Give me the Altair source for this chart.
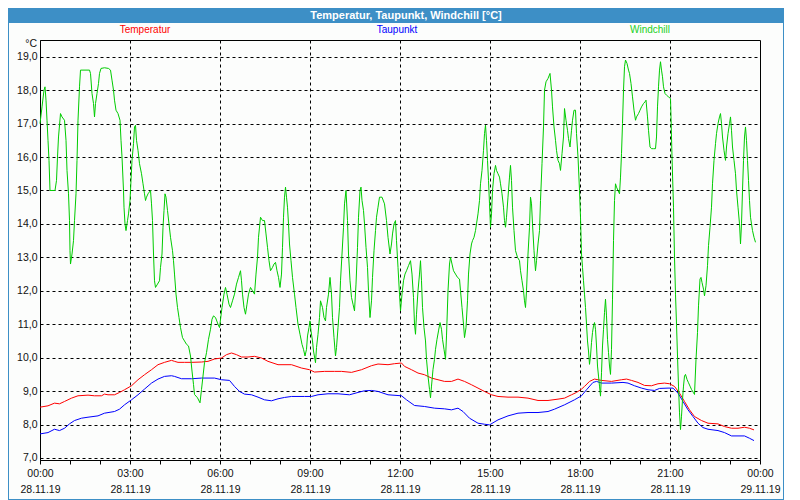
import altair as alt
import pandas as pd

SERIES = ["Temperatur", "Taupunkt", "Windchill"]
LINE_COLORS = ["#ff0000", "#0000ff", "#00cc00"]
LABEL_COLORS = ["#ff0000", "#0000ff", "#22d022"]
TITLE = "Temperatur, Taupunkt, Windchill [°C]"
UNIT = "°C"
X_TICK_HOURS = list(range(0, 25))
Y_TICKS = list(range(7, 20))

# minutes after 28.11.19 00:00 and values in °C
temp_min = [0, 16, 29, 39, 49, 63, 76, 96, 109, 123,
            129, 136, 149, 159, 169, 183, 196, 209, 223, 236,
            249, 263, 269, 276, 289, 303, 323, 336, 349, 363,
            373, 383, 393, 403, 416, 429, 443, 456, 476, 503,
            523, 539, 549, 569, 589, 603, 623, 643, 663, 676,
            696, 709, 723, 729, 743, 756, 769, 783, 796, 809,
            823, 836, 849, 863, 876, 889, 903, 916, 936, 956,
            976, 996, 1016, 1036, 1049, 1063, 1073, 1083, 1089, 1099,
            1109, 1123, 1143, 1163, 1173, 1183, 1196, 1209, 1223, 1236,
            1249, 1259, 1269, 1279, 1289, 1299, 1309, 1323, 1336, 1356,
            1369, 1383, 1396, 1409, 1419, 1428]
temp_val = [8.52, 8.56, 8.64, 8.62, 8.69, 8.79, 8.86, 8.88, 8.86, 8.86,
            8.91, 8.89, 8.89, 8.96, 9.04, 9.16, 9.34, 9.49, 9.64, 9.79,
            9.86, 9.92, 9.89, 9.86, 9.86, 9.86, 9.87, 9.89, 9.96, 9.99,
            10.09, 10.14, 10.09, 10.02, 10.02, 10.04, 9.99, 9.89, 9.79, 9.79,
            9.69, 9.64, 9.57, 9.59, 9.59, 9.59, 9.56, 9.64, 9.76, 9.81,
            9.79, 9.82, 9.84, 9.74, 9.64, 9.54, 9.49, 9.39, 9.34, 9.29,
            9.29, 9.36, 9.29, 9.19, 9.09, 8.99, 8.89, 8.84, 8.82, 8.82,
            8.79, 8.72, 8.72, 8.76, 8.79, 8.89, 8.96, 9.06, 9.14, 9.29,
            9.36, 9.32, 9.29, 9.34, 9.36, 9.32, 9.26, 9.17, 9.16, 9.22,
            9.24, 9.22, 9.14, 8.94, 8.69, 8.44, 8.24, 8.12, 8.04, 8.02,
            7.94, 7.89, 7.89, 7.92, 7.89, 7.84]

dew_min = [0, 16, 29, 39, 49, 59, 69, 83, 96, 116,
           129, 149, 159, 169, 183, 196, 209, 223, 236, 249,
           263, 269, 283, 303, 323, 349, 363, 379, 389, 399,
           409, 423, 436, 449, 463, 476, 489, 503, 529, 543,
           556, 576, 596, 619, 636, 649, 663, 676, 696, 723,
           733, 749, 769, 789, 809, 823, 836, 846, 859, 876,
           889, 899, 916, 936, 956, 976, 996, 1016, 1029, 1049,
           1069, 1083, 1093, 1106, 1113, 1123, 1143, 1166, 1176, 1189,
           1203, 1216, 1229, 1239, 1256, 1266, 1276, 1286, 1296, 1306,
           1316, 1326, 1336, 1356, 1369, 1383, 1396, 1409, 1419, 1428]
dew_val = [7.72, 7.76, 7.86, 7.82, 7.89, 8.02, 8.12, 8.19, 8.22, 8.26,
           8.34, 8.39, 8.46, 8.59, 8.74, 8.89, 9.06, 9.24, 9.36, 9.44,
           9.46, 9.44, 9.37, 9.37, 9.39, 9.39, 9.34, 9.32, 9.14, 8.99,
           8.91, 8.89, 8.82, 8.74, 8.71, 8.77, 8.81, 8.84, 8.84, 8.84,
           8.89, 8.92, 8.92, 8.89, 8.96, 9.01, 9.02, 8.99, 8.89, 8.86,
           8.74, 8.57, 8.54, 8.49, 8.47, 8.44, 8.49, 8.39, 8.19, 8.04,
           8.01, 7.99, 8.14, 8.26, 8.34, 8.36, 8.36, 8.39, 8.46, 8.59,
           8.74, 8.86, 9.04, 9.26, 9.29, 9.24, 9.24, 9.26, 9.24, 9.16,
           9.09, 9.04, 9.02, 9.08, 9.09, 9.09, 8.94, 8.69, 8.44, 8.24,
           8.04, 7.91, 7.86, 7.82, 7.76, 7.66, 7.66, 7.66, 7.59, 7.52]

wc_min = [0, 4, 8, 10, 12, 14, 16, 18, 20, 26,
          30, 33, 35, 37, 41, 44, 49, 52, 54, 57,
          59, 60, 61, 64, 67, 69, 72, 74, 76, 79,
          81, 99, 101, 104, 107, 109, 111, 114, 117, 119,
          122, 129, 137, 141, 144, 147, 149, 152, 156, 160,
          162, 164, 167, 168, 170, 172, 175, 177, 180, 182,
          184, 187, 189, 191, 193, 196, 199, 203, 206, 209,
          211, 213, 216, 221, 223, 225, 227, 229, 231, 235,
          239, 241, 244, 246, 248, 250, 252, 255, 258, 261,
          265, 267, 269, 272, 275, 278, 281, 285, 289, 293,
          297, 301, 304, 307, 309, 315, 320, 323, 326, 329,
          333, 337, 341, 344, 347, 351, 356, 359,
          364, 368, 371, 374, 378, 381, 385, 389, 393, 397,
          401, 403, 405, 408, 411, 414, 417, 421, 425, 429,
          432, 435, 437, 441, 445, 449, 452, 455, 458, 461,
          465, 468, 471, 474, 477, 480, 483, 485, 487, 489,
          491, 493, 495, 497, 499, 502, 505, 509, 512, 516,
          520, 524, 527, 530, 533, 535, 538, 540, 542, 545,
          547, 551, 553, 556, 559, 561, 565, 568, 571, 573,
          577, 580, 583, 585, 588, 591, 593, 596, 599, 601,
          604, 607, 609, 612, 615, 617, 620, 623, 626, 629,
          632, 635, 637, 640, 642, 644, 647, 649, 652, 655,
          657, 660, 663, 665, 668, 671, 673, 676, 679, 684,
          689, 693, 696, 700, 703, 705, 708, 711, 713, 716,
          719, 721,
          724, 727, 730, 733, 737, 741, 744, 747, 749, 751,
          753, 756, 759, 761, 763, 765, 768, 771, 773, 776,
          779, 781, 783, 786, 789, 791, 794, 797, 800, 803,
          805, 808, 811, 813, 816, 819, 821, 824, 827, 831,
          835, 839, 841, 844, 847, 849, 852, 855, 857, 860,
          863, 865, 868, 871, 873, 876, 879, 881, 884, 887,
          889, 891, 893, 895, 897, 899, 901, 903, 905, 908,
          911, 913, 916, 919, 921, 924, 927, 929, 931, 933,
          936, 939, 941, 943, 945, 948, 951, 955, 959, 961,
          964, 967, 969, 971, 973, 976, 979, 981, 983, 985,
          988, 991, 993, 996, 999, 1001, 1004, 1007, 1009, 1012,
          1016, 1020, 1023, 1025, 1028, 1031, 1033, 1036, 1039, 1041,
          1044, 1047, 1049, 1052, 1055, 1057, 1060, 1063, 1065, 1068,
          1071, 1073, 1076, 1079, 1081, 1083,
          1085, 1087, 1089, 1091, 1093, 1095, 1097, 1099, 1101, 1103,
          1105, 1107, 1109, 1111, 1113, 1115, 1117, 1119, 1121, 1123,
          1125, 1127, 1129, 1131, 1133, 1135, 1137, 1139, 1141, 1143,
          1145, 1147, 1149, 1151, 1153, 1156, 1159, 1161, 1163, 1165,
          1167, 1169, 1171, 1174, 1177, 1179, 1182, 1185, 1188, 1191,
          1193, 1197, 1200, 1203, 1207, 1210, 1212, 1215, 1217, 1220,
          1223, 1227, 1231, 1233, 1235, 1237, 1239, 1241, 1243, 1245,
          1247, 1250, 1253, 1257, 1261, 1262, 1264, 1267, 1269, 1271,
          1273, 1275, 1277, 1279, 1281, 1283, 1285, 1287, 1289, 1291,
          1294, 1297, 1300, 1303, 1307, 1309, 1312, 1315, 1317, 1320,
          1322, 1324, 1327, 1329, 1332, 1335, 1337, 1340, 1343, 1345,
          1348, 1351, 1353, 1356, 1359, 1361, 1363, 1365, 1368, 1371,
          1373, 1376, 1379, 1381, 1383, 1385, 1388, 1391, 1393, 1396,
          1399, 1401, 1403, 1405, 1407, 1409, 1411, 1413, 1415, 1417,
          1419, 1421, 1423, 1425, 1428, 1431]
wc_val = [17.0, 17.5, 18.0, 18.1, 17.7, 17.1, 16.5, 15.9, 15.0, 15.0,
          15.0, 15.3, 16.0, 16.6, 17.3, 17.2, 17.1, 16.5, 15.6, 14.9,
          14.1, 13.2, 12.8, 13.1, 13.5, 14.1, 14.9, 15.9, 17.1, 18.1,
          18.6, 18.6, 18.5, 17.9, 17.6, 17.2, 17.6, 17.9, 18.2, 18.5,
          18.65, 18.67, 18.65, 18.6, 18.3, 18.0, 17.7, 17.4, 17.3, 17.1,
          16.5, 16.0, 15.0, 14.5, 14.0, 13.8, 14.1, 14.3, 14.7, 15.3,
          15.9, 16.4, 16.9, 16.95, 16.5, 16.2, 15.8, 15.5, 15.2, 14.9,
          14.7, 14.8, 14.9, 15.0, 14.6, 14.1, 13.1, 12.3, 12.1, 12.2,
          12.3, 12.7, 13.1, 13.9, 14.4, 14.9, 14.8, 14.4, 14.0, 13.6,
          13.2, 12.9, 12.5, 11.9, 11.5, 11.2, 10.9, 10.6, 10.5, 10.4,
          10.35, 10.05, 9.6, 9.2, 8.9, 8.8, 8.65, 9.05, 9.45, 9.85,
          10.15, 10.55, 10.85, 11.15, 11.25, 11.2, 11.0, 10.9,
          11.5, 11.9, 12.1, 11.9, 11.6, 11.5, 11.7, 11.9, 12.2, 12.4,
          12.6, 12.3, 11.9, 11.5, 11.3, 11.6, 11.9, 12.1, 12.0, 11.9,
          12.5, 13.0, 13.6, 14.2, 14.1, 14.1, 13.7, 13.3, 12.9, 12.6,
          12.7, 12.8, 12.85, 12.6, 12.4, 12.1, 12.5, 13.3, 14.2, 14.8,
          15.1, 14.8, 14.5, 14.0, 13.4, 12.9, 12.4, 11.9, 11.5, 11.0,
          10.7, 10.4, 10.25, 10.05, 10.25, 10.65, 10.9, 11.1, 10.8, 10.5,
          10.2, 9.85, 10.3, 10.7, 11.2, 11.7, 11.5, 11.2, 11.1, 11.5,
          11.9, 12.4, 11.9, 11.2, 10.6, 10.05, 10.3, 10.9, 11.5, 12.3,
          13.1, 13.9, 14.6, 15.0, 14.1, 13.1, 12.3, 11.8, 11.6, 11.4,
          12.2, 13.3, 14.2, 15.0, 15.1, 14.7, 14.4, 14.0, 13.3, 12.7,
          12.0, 11.2, 11.7, 12.4, 13.2, 13.8, 14.2, 14.5, 14.8, 14.8,
          14.6, 14.1, 13.6, 13.1, 13.4, 13.7, 14.0, 14.1, 13.5, 12.7,
          11.9, 11.4,
          11.9, 12.3, 12.5, 12.6, 12.75, 12.9, 12.5, 11.8, 11.0, 10.7,
          11.3, 12.0, 12.5, 12.9, 12.3, 11.5, 10.9, 10.5, 9.95, 9.45,
          9.05, 8.8, 9.15, 9.65, 9.95, 10.25, 10.55, 10.8, 11.05, 10.85,
          10.55, 10.25, 9.95, 10.65, 12.0, 12.8, 13.0, 12.8, 12.6, 12.5,
          12.4, 12.35, 12.0, 11.5, 11.0, 10.6, 10.9, 11.7, 12.5, 13.1,
          13.4, 13.5, 13.6, 13.8, 14.0, 14.3, 14.7, 15.2, 15.6, 16.2,
          16.7, 16.95, 16.5, 15.9, 15.3, 14.6, 13.9, 14.3, 15.0, 15.5,
          15.75, 15.6, 15.5, 15.4, 15.2, 14.9, 14.5, 14.1, 13.9, 14.2,
          14.8, 15.4, 15.75, 15.3, 14.5, 13.8, 13.2, 13.0, 12.9, 12.6,
          12.3, 12.0, 11.7, 11.5, 12.0, 13.1, 13.9, 14.8, 14.6, 14.0,
          13.2, 12.6, 12.9, 13.4, 13.8, 14.7, 15.8, 16.9, 18.0, 18.25,
          18.35, 18.5, 18.0, 17.5, 16.9, 16.5, 16.2, 15.9, 15.8, 15.6,
          16.1, 16.6, 17.45, 17.1, 16.8, 16.55, 16.3, 16.8, 17.1, 17.4,
          17.4, 16.7, 16.0, 15.0, 14.2, 13.1,
          12.7, 12.3, 11.9, 11.5, 11.0, 10.5, 10.2, 9.8, 10.05, 10.45,
          10.75, 10.95, 11.05, 10.85, 10.35, 9.75, 9.45, 9.15, 8.85, 9.55,
          10.35, 10.85, 11.35, 11.75, 11.25, 10.55, 10.15, 9.75, 9.5, 10.25,
          11.75, 13.5, 14.7, 15.2, 15.1, 15.0, 14.9, 15.4, 16.1, 17.0,
          18.0, 18.7, 18.9, 18.8, 18.6, 18.5, 18.2, 17.8, 17.4, 17.1,
          17.2, 17.3, 17.4, 17.5, 17.6, 17.65, 17.7, 17.2, 16.8, 16.3,
          16.25, 16.25, 16.25, 16.6, 17.5, 18.1, 18.6, 18.85, 18.6, 18.4,
          18.1, 17.9, 17.85, 17.8, 17.75, 17.2, 16.0, 14.5, 13.0, 11.9,
          11.0, 10.05, 9.15, 8.35, 7.85, 8.25, 8.75, 9.15, 9.45, 9.5,
          9.35, 9.25, 9.15, 9.05, 8.95, 8.9, 9.95, 10.75, 11.55, 12.35,
          12.4, 12.25, 12.05, 11.85, 12.15, 12.75, 13.35, 13.9, 14.5, 15.2,
          15.9, 16.4, 16.7, 17.0, 17.2, 17.3, 17.0, 16.6, 16.2, 15.9,
          16.3, 16.7, 17.0, 17.2, 16.8, 16.3, 15.9, 15.5, 15.0, 14.5,
          14.0, 13.4, 14.0, 15.0, 15.9, 16.6, 16.9, 16.5, 15.9, 15.3,
          14.7, 14.2, 14.0, 13.8, 13.6, 13.45]

rows = []
for name, mins, vals in zip(SERIES, [temp_min, dew_min, wc_min], [temp_val, dew_val, wc_val]):
    n = min(len(mins), len(vals))
    for m, v in zip(mins[:n], vals[:n]):
        rows.append({"series": name, "hour": m / 60.0, "value": v})
df = pd.DataFrame(rows)

W, H = 720, 420
PAD_L, PAD_T, PAD_R, PAD_B = 32, 32, 24, 40
FONT = "Liberation Sans"
BAR = "#3d8fc6"
BG = "#fcfdfc"
TXT = "#111111"

x_label = ("datum.value % 3 == 0 ? [(datum.value % 24 < 10 ? '0' : '') + (datum.value % 24) + ':00', "
           "datum.value >= 24 ? '29.11.19' : '28.11.19'] : ''")

x_axis = alt.Axis(
    values=X_TICK_HOURS, labelExpr=x_label, title=None,
    labelFont=FONT, labelFontSize=10.5, labelColor=TXT, labelPadding=4,
    labelLineHeight=16.5, labelOverlap=False, labelFlush=False,
    tickSize=4, tickColor="black", domainColor="black",
    grid=True, gridColor="black", gridDash=[3, 3], gridWidth=1,
    gridOpacity={"condition": {"test": "datum.value % 3 == 0 && datum.value > 0 && datum.value < 24", "value": 1}, "value": 0},
)
y_axis = alt.Axis(
    values=Y_TICKS, labelExpr="replace(format(datum.value, '.1f'), '.', ',')", title=None,
    labelFont=FONT, labelFontSize=10.5, labelColor=TXT, labelPadding=3,
    ticks=False, domainColor="black",
    grid=True, gridColor="black", gridDash=[3, 3], gridWidth=1,
)

lines = alt.Chart(df).mark_line(strokeWidth=1, interpolate="linear").encode(
    x=alt.X("hour:Q", scale=alt.Scale(domain=[0, 24], nice=False, zero=False), axis=x_axis),
    y=alt.Y("value:Q", scale=alt.Scale(domain=[6.94, 19.5], nice=False, zero=False), axis=y_axis),
    color=alt.Color("series:N", scale=alt.Scale(domain=SERIES, range=LINE_COLORS), legend=None),
)

one = pd.DataFrame({"k": [0]})

bar = alt.Chart(one).mark_rect(fill=BAR).encode(
    x=alt.value(-PAD_L), x2=alt.value(W + PAD_R), y=alt.value(-PAD_T), y2=alt.value(-17))
border = alt.Chart(one).mark_rect(filled=False, stroke=BAR, strokeWidth=2).encode(
    x=alt.value(-PAD_L), x2=alt.value(W + PAD_R), y=alt.value(-PAD_T), y2=alt.value(H + PAD_B))
title = alt.Chart(one).mark_text(font=FONT, fontSize=11, fontWeight="bold", color="white",
                                 align="center", baseline="middle").encode(
    x=alt.value(366), y=alt.value(-24.5), text=alt.value(TITLE))
unit = alt.Chart(one).mark_text(font=FONT, fontSize=10.5, color=TXT, align="right",
                                baseline="middle").encode(
    x=alt.value(-3), y=alt.value(4), text=alt.value(UNIT))

legend_layers = []
for name, col, xpos in zip(SERIES, LABEL_COLORS, [105, 357, 610]):
    legend_layers.append(
        alt.Chart(one).mark_text(font=FONT, fontSize=10, color=col, align="center",
                                 baseline="middle").encode(
            x=alt.value(xpos), y=alt.value(-10), text=alt.value(name)))

chart = alt.layer(lines, bar, title, unit, *legend_layers, border).properties(
    width=W, height=H,
    autosize=alt.AutoSizeParams(type="none"),
    padding={"left": PAD_L, "top": PAD_T, "right": PAD_R, "bottom": PAD_B},
    background=BG,
).configure_view(stroke="black", strokeWidth=1)

chart.save("out.html", embed_options={"renderer": "svg", "actions": False})
